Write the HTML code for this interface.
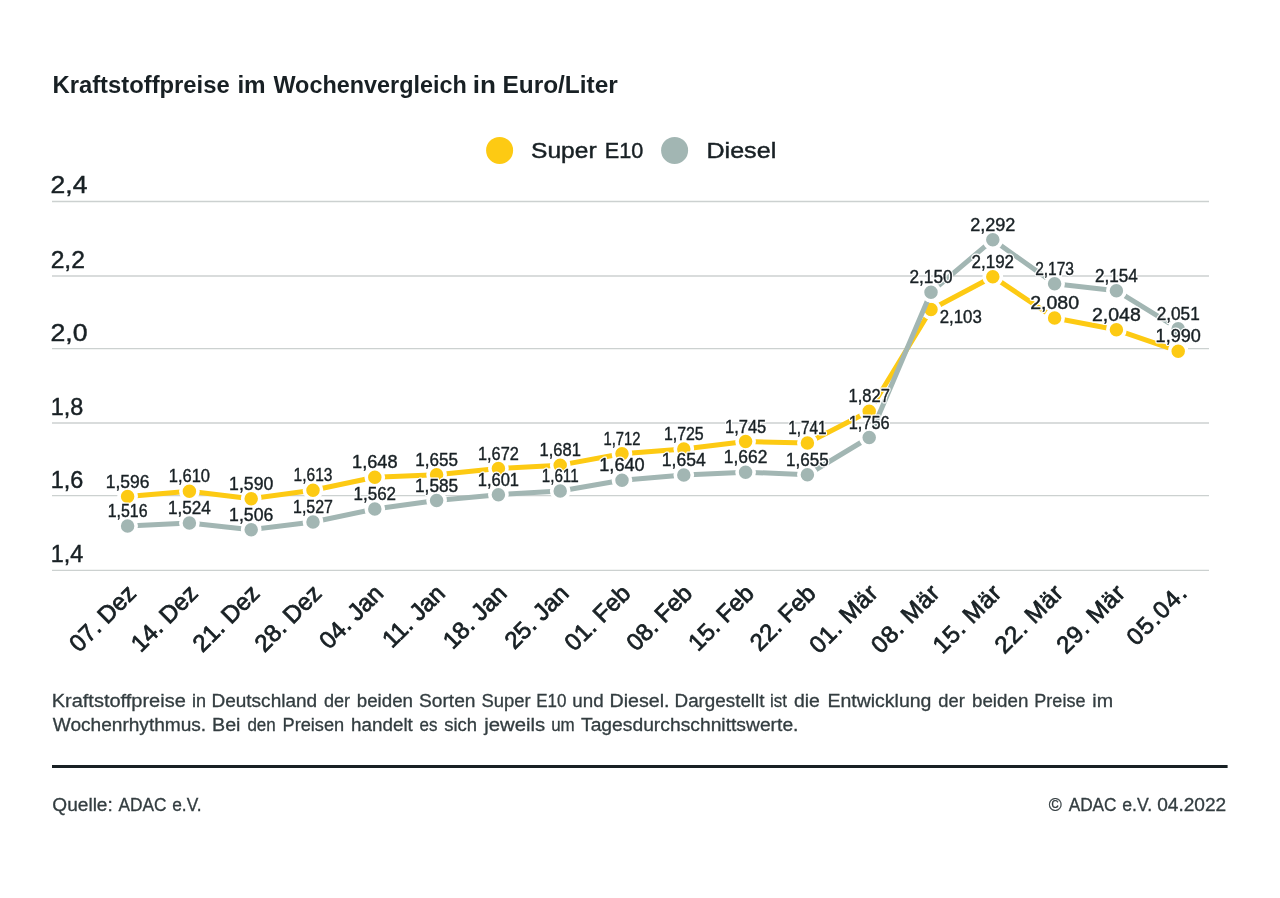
<!DOCTYPE html>
<html lang="de"><head><meta charset="utf-8"><title>Kraftstoffpreise im Wochenvergleich</title>
<style>html,body{margin:0;padding:0;background:#fff}body{width:1280px;height:898px;overflow:hidden;font-family:"Liberation Sans", sans-serif}svg{display:block;will-change:transform}text{font-family:"Liberation Sans", sans-serif}</style></head><body>
<svg width="1280" height="898" viewBox="0 0 1280 898">
<rect width="1280" height="898" fill="#fff"/>
<g font-size="24.2" font-weight="700" fill="#182024">
<text x="52.44" y="93.3" textLength="177.29" lengthAdjust="spacingAndGlyphs">Kraftstoffpreise</text>
<text x="237.4" y="93.3" textLength="28.29" lengthAdjust="spacingAndGlyphs">im</text>
<text x="273.42" y="93.3" textLength="193.46" lengthAdjust="spacingAndGlyphs">Wochenvergleich</text>
<text x="472.8" y="93.3" textLength="23.18" lengthAdjust="spacingAndGlyphs">in</text>
<text x="502.41" y="93.3" textLength="115.42" lengthAdjust="spacingAndGlyphs">Euro/Liter</text>
</g>
<circle cx="499.6" cy="150.4" r="13.5" fill="#fdca13"/>
<g font-size="22.6" font-weight="400" fill="#182024" stroke="#182024" stroke-width="0.45">
<text x="531.02" y="158.4" textLength="65.6" lengthAdjust="spacingAndGlyphs">Super</text>
<text x="604.74" y="158.4" textLength="38.45" lengthAdjust="spacingAndGlyphs">E10</text>
<text x="706.45" y="158.4" textLength="69.79" lengthAdjust="spacingAndGlyphs">Diesel</text>
</g>
<circle cx="674.6" cy="150.4" r="13.5" fill="#a2b6b3"/>
<line x1="52" x2="1209" y1="570.3" y2="570.3" stroke="#ccd1d0" stroke-width="1.3"/>
<text x="50.7" y="562.2" font-size="24" fill="#182024" stroke="#182024" stroke-width="0.45" textLength="32.52" lengthAdjust="spacingAndGlyphs">1,4</text>
<line x1="52" x2="1209" y1="495.6" y2="495.6" stroke="#ccd1d0" stroke-width="1.3"/>
<text x="50.7" y="487.5" font-size="24" fill="#182024" stroke="#182024" stroke-width="0.45" textLength="32.56" lengthAdjust="spacingAndGlyphs">1,6</text>
<line x1="52" x2="1209" y1="423" y2="423" stroke="#ccd1d0" stroke-width="1.3"/>
<text x="50.7" y="414.9" font-size="24" fill="#182024" stroke="#182024" stroke-width="0.45" textLength="32.57" lengthAdjust="spacingAndGlyphs">1,8</text>
<line x1="52" x2="1209" y1="348.7" y2="348.7" stroke="#ccd1d0" stroke-width="1.3"/>
<text x="50.56" y="340.6" font-size="24" fill="#182024" stroke="#182024" stroke-width="0.45" textLength="37.05" lengthAdjust="spacingAndGlyphs">2,0</text>
<line x1="52" x2="1209" y1="276" y2="276" stroke="#ccd1d0" stroke-width="1.3"/>
<text x="50.67" y="267.9" font-size="24" fill="#182024" stroke="#182024" stroke-width="0.45" textLength="34.26" lengthAdjust="spacingAndGlyphs">2,2</text>
<line x1="52" x2="1209" y1="201.5" y2="201.5" stroke="#ccd1d0" stroke-width="1.3"/>
<text x="50.57" y="193.4" font-size="24" fill="#182024" stroke="#182024" stroke-width="0.45" textLength="36.82" lengthAdjust="spacingAndGlyphs">2,4</text>
<text transform="translate(137.5 594.7) rotate(-45)" text-anchor="end" font-size="24" fill="#182024" stroke="#182024" stroke-width="0.75">07. Dez</text>
<text transform="translate(199.3 594.7) rotate(-45)" text-anchor="end" font-size="24" fill="#182024" stroke="#182024" stroke-width="0.75">14. Dez</text>
<text transform="translate(261.1 594.7) rotate(-45)" text-anchor="end" font-size="24" fill="#182024" stroke="#182024" stroke-width="0.75">21. Dez</text>
<text transform="translate(322.9 594.7) rotate(-45)" text-anchor="end" font-size="24" fill="#182024" stroke="#182024" stroke-width="0.75">28. Dez</text>
<text transform="translate(384.7 594.7) rotate(-45)" text-anchor="end" font-size="24" fill="#182024" stroke="#182024" stroke-width="0.75">04. Jan</text>
<text transform="translate(446.5 594.7) rotate(-45)" text-anchor="end" font-size="24" fill="#182024" stroke="#182024" stroke-width="0.75">11. Jan</text>
<text transform="translate(508.3 594.7) rotate(-45)" text-anchor="end" font-size="24" fill="#182024" stroke="#182024" stroke-width="0.75">18. Jan</text>
<text transform="translate(570.1 594.7) rotate(-45)" text-anchor="end" font-size="24" fill="#182024" stroke="#182024" stroke-width="0.75">25. Jan</text>
<text transform="translate(631.9 594.7) rotate(-45)" text-anchor="end" font-size="24" fill="#182024" stroke="#182024" stroke-width="0.75">01. Feb</text>
<text transform="translate(693.7 594.7) rotate(-45)" text-anchor="end" font-size="24" fill="#182024" stroke="#182024" stroke-width="0.75">08. Feb</text>
<text transform="translate(755.5 594.7) rotate(-45)" text-anchor="end" font-size="24" fill="#182024" stroke="#182024" stroke-width="0.75">15. Feb</text>
<text transform="translate(817.3 594.7) rotate(-45)" text-anchor="end" font-size="24" fill="#182024" stroke="#182024" stroke-width="0.75">22. Feb</text>
<text transform="translate(879.1 594.7) rotate(-45)" text-anchor="end" font-size="24" fill="#182024" stroke="#182024" stroke-width="0.75" textLength="85" lengthAdjust="spacing">01. Mär</text>
<text transform="translate(940.9 594.7) rotate(-45)" text-anchor="end" font-size="24" fill="#182024" stroke="#182024" stroke-width="0.75" textLength="85" lengthAdjust="spacing">08. Mär</text>
<text transform="translate(1002.7 594.7) rotate(-45)" text-anchor="end" font-size="24" fill="#182024" stroke="#182024" stroke-width="0.75" textLength="85" lengthAdjust="spacing">15. Mär</text>
<text transform="translate(1064.5 594.7) rotate(-45)" text-anchor="end" font-size="24" fill="#182024" stroke="#182024" stroke-width="0.75" textLength="85" lengthAdjust="spacing">22. Mär</text>
<text transform="translate(1126.3 594.7) rotate(-45)" text-anchor="end" font-size="24" fill="#182024" stroke="#182024" stroke-width="0.75" textLength="85" lengthAdjust="spacing">29. Mär</text>
<text transform="translate(1188.1 594.7) rotate(-45)" text-anchor="end" font-size="24" fill="#182024" stroke="#182024" stroke-width="0.75" textLength="73.5" lengthAdjust="spacing">05.04.</text>
<polyline points="127.6,496.5 189.4,491.33 251.2,498.71 313,490.23 374.8,477.32 436.6,474.74 498.4,468.47 560.2,465.15 622,453.71 683.8,448.92 745.6,441.54 807.4,443.02 869.2,411.3 931,309.51 992.8,276.69 1054.6,318 1116.4,329.8 1178.2,351.19" fill="none" stroke="#fdca13" stroke-width="5" stroke-linejoin="round" stroke-linecap="round"/>
<circle cx="127.6" cy="496.5" r="8.55" fill="#fdca13" stroke="#fff" stroke-width="3.6"/>
<circle cx="189.4" cy="491.33" r="8.55" fill="#fdca13" stroke="#fff" stroke-width="3.6"/>
<circle cx="251.2" cy="498.71" r="8.55" fill="#fdca13" stroke="#fff" stroke-width="3.6"/>
<circle cx="313" cy="490.23" r="8.55" fill="#fdca13" stroke="#fff" stroke-width="3.6"/>
<circle cx="374.8" cy="477.32" r="8.55" fill="#fdca13" stroke="#fff" stroke-width="3.6"/>
<circle cx="436.6" cy="474.74" r="8.55" fill="#fdca13" stroke="#fff" stroke-width="3.6"/>
<circle cx="498.4" cy="468.47" r="8.55" fill="#fdca13" stroke="#fff" stroke-width="3.6"/>
<circle cx="560.2" cy="465.15" r="8.55" fill="#fdca13" stroke="#fff" stroke-width="3.6"/>
<circle cx="622" cy="453.71" r="8.55" fill="#fdca13" stroke="#fff" stroke-width="3.6"/>
<circle cx="683.8" cy="448.92" r="8.55" fill="#fdca13" stroke="#fff" stroke-width="3.6"/>
<circle cx="745.6" cy="441.54" r="8.55" fill="#fdca13" stroke="#fff" stroke-width="3.6"/>
<circle cx="807.4" cy="443.02" r="8.55" fill="#fdca13" stroke="#fff" stroke-width="3.6"/>
<circle cx="869.2" cy="411.3" r="8.55" fill="#fdca13" stroke="#fff" stroke-width="3.6"/>
<circle cx="931" cy="309.51" r="8.55" fill="#fdca13" stroke="#fff" stroke-width="3.6"/>
<circle cx="992.8" cy="276.69" r="8.55" fill="#fdca13" stroke="#fff" stroke-width="3.6"/>
<circle cx="1054.6" cy="318" r="8.55" fill="#fdca13" stroke="#fff" stroke-width="3.6"/>
<circle cx="1116.4" cy="329.8" r="8.55" fill="#fdca13" stroke="#fff" stroke-width="3.6"/>
<circle cx="1178.2" cy="351.19" r="8.55" fill="#fdca13" stroke="#fff" stroke-width="3.6"/>
<polyline points="127.6,526 189.4,523.05 251.2,529.69 313,521.94 374.8,509.03 436.6,500.55 498.4,494.65 560.2,490.96 622,480.27 683.8,475.1 745.6,472.15 807.4,474.74 869.2,437.49 931,292.18 992.8,239.81 1054.6,283.7 1116.4,290.7 1178.2,328.69" fill="none" stroke="#a2b6b3" stroke-width="5" stroke-linejoin="round" stroke-linecap="round"/>
<circle cx="127.6" cy="526" r="8.55" fill="#a2b6b3" stroke="#fff" stroke-width="3.6"/>
<circle cx="189.4" cy="523.05" r="8.55" fill="#a2b6b3" stroke="#fff" stroke-width="3.6"/>
<circle cx="251.2" cy="529.69" r="8.55" fill="#a2b6b3" stroke="#fff" stroke-width="3.6"/>
<circle cx="313" cy="521.94" r="8.55" fill="#a2b6b3" stroke="#fff" stroke-width="3.6"/>
<circle cx="374.8" cy="509.03" r="8.55" fill="#a2b6b3" stroke="#fff" stroke-width="3.6"/>
<circle cx="436.6" cy="500.55" r="8.55" fill="#a2b6b3" stroke="#fff" stroke-width="3.6"/>
<circle cx="498.4" cy="494.65" r="8.55" fill="#a2b6b3" stroke="#fff" stroke-width="3.6"/>
<circle cx="560.2" cy="490.96" r="8.55" fill="#a2b6b3" stroke="#fff" stroke-width="3.6"/>
<circle cx="622" cy="480.27" r="8.55" fill="#a2b6b3" stroke="#fff" stroke-width="3.6"/>
<circle cx="683.8" cy="475.1" r="8.55" fill="#a2b6b3" stroke="#fff" stroke-width="3.6"/>
<circle cx="745.6" cy="472.15" r="8.55" fill="#a2b6b3" stroke="#fff" stroke-width="3.6"/>
<circle cx="807.4" cy="474.74" r="8.55" fill="#a2b6b3" stroke="#fff" stroke-width="3.6"/>
<circle cx="869.2" cy="437.49" r="8.55" fill="#a2b6b3" stroke="#fff" stroke-width="3.6"/>
<circle cx="931" cy="292.18" r="8.55" fill="#a2b6b3" stroke="#fff" stroke-width="3.6"/>
<circle cx="992.8" cy="239.81" r="8.55" fill="#a2b6b3" stroke="#fff" stroke-width="3.6"/>
<circle cx="1054.6" cy="283.7" r="8.55" fill="#a2b6b3" stroke="#fff" stroke-width="3.6"/>
<circle cx="1116.4" cy="290.7" r="8.55" fill="#a2b6b3" stroke="#fff" stroke-width="3.6"/>
<circle cx="1178.2" cy="328.69" r="8.55" fill="#a2b6b3" stroke="#fff" stroke-width="3.6"/>
<g font-size="17.5" fill="#fff" stroke="#fff" stroke-width="2.8" stroke-linejoin="round">
<text x="105.77" y="487.6" textLength="43.65" lengthAdjust="spacingAndGlyphs">1,596</text>
<text x="168.75" y="482.43" textLength="41.3" lengthAdjust="spacingAndGlyphs">1,610</text>
<text x="229.12" y="489.81" textLength="44.15" lengthAdjust="spacingAndGlyphs">1,590</text>
<text x="293.6" y="481.33" textLength="38.8" lengthAdjust="spacingAndGlyphs">1,613</text>
<text x="352.07" y="468.42" textLength="45.45" lengthAdjust="spacingAndGlyphs">1,648</text>
<text x="415.28" y="465.84" textLength="42.65" lengthAdjust="spacingAndGlyphs">1,655</text>
<text x="477.97" y="459.57" textLength="40.85" lengthAdjust="spacingAndGlyphs">1,672</text>
<text x="539.55" y="456.25" textLength="41.3" lengthAdjust="spacingAndGlyphs">1,681</text>
<text x="603.5" y="444.81" textLength="37" lengthAdjust="spacingAndGlyphs">1,712</text>
<text x="663.88" y="440.02" textLength="39.85" lengthAdjust="spacingAndGlyphs">1,725</text>
<text x="724.98" y="432.64" textLength="41.25" lengthAdjust="spacingAndGlyphs">1,745</text>
<text x="788.2" y="434.12" textLength="38.4" lengthAdjust="spacingAndGlyphs">1,741</text>
<text x="848.52" y="402.4" textLength="41.35" lengthAdjust="spacingAndGlyphs">1,827</text>
<text x="939.77" y="322.51" textLength="42.05" lengthAdjust="spacingAndGlyphs">2,103</text>
<text x="971.57" y="267.79" textLength="42.45" lengthAdjust="spacingAndGlyphs">2,192</text>
<text x="1030.15" y="309.1" textLength="48.9" lengthAdjust="spacingAndGlyphs">2,080</text>
<text x="1092.05" y="320.9" textLength="48.7" lengthAdjust="spacingAndGlyphs">2,048</text>
<text x="1155.62" y="342.29" textLength="45.15" lengthAdjust="spacingAndGlyphs">1,990</text>
<text x="107.7" y="517.1" textLength="39.8" lengthAdjust="spacingAndGlyphs">1,516</text>
<text x="167.97" y="514.15" textLength="42.85" lengthAdjust="spacingAndGlyphs">1,524</text>
<text x="229.12" y="520.79" textLength="44.15" lengthAdjust="spacingAndGlyphs">1,506</text>
<text x="293.07" y="513.04" textLength="39.85" lengthAdjust="spacingAndGlyphs">1,527</text>
<text x="353.52" y="500.13" textLength="42.55" lengthAdjust="spacingAndGlyphs">1,562</text>
<text x="415.03" y="491.65" textLength="43.15" lengthAdjust="spacingAndGlyphs">1,585</text>
<text x="477.75" y="485.75" textLength="41.3" lengthAdjust="spacingAndGlyphs">1,601</text>
<text x="541.72" y="482.06" textLength="36.95" lengthAdjust="spacingAndGlyphs">1,611</text>
<text x="599.27" y="471.37" textLength="45.45" lengthAdjust="spacingAndGlyphs">1,640</text>
<text x="661.82" y="466.2" textLength="43.95" lengthAdjust="spacingAndGlyphs">1,654</text>
<text x="723.83" y="463.25" textLength="43.55" lengthAdjust="spacingAndGlyphs">1,662</text>
<text x="786.07" y="465.84" textLength="42.65" lengthAdjust="spacingAndGlyphs">1,655</text>
<text x="848.72" y="428.59" textLength="40.95" lengthAdjust="spacingAndGlyphs">1,756</text>
<text x="909.48" y="283.28" textLength="43.05" lengthAdjust="spacingAndGlyphs">2,150</text>
<text x="970.2" y="230.91" textLength="45.2" lengthAdjust="spacingAndGlyphs">2,292</text>
<text x="1035.17" y="274.8" textLength="38.85" lengthAdjust="spacingAndGlyphs">2,173</text>
<text x="1094.97" y="281.8" textLength="42.85" lengthAdjust="spacingAndGlyphs">2,154</text>
<text x="1156.67" y="319.79" textLength="43.05" lengthAdjust="spacingAndGlyphs">2,051</text>
</g>
<g font-size="17.5" fill="#182024" stroke="#182024" stroke-width="0.4">
<text x="105.77" y="487.6" textLength="43.65" lengthAdjust="spacingAndGlyphs">1,596</text>
<text x="168.75" y="482.43" textLength="41.3" lengthAdjust="spacingAndGlyphs">1,610</text>
<text x="229.12" y="489.81" textLength="44.15" lengthAdjust="spacingAndGlyphs">1,590</text>
<text x="293.6" y="481.33" textLength="38.8" lengthAdjust="spacingAndGlyphs">1,613</text>
<text x="352.07" y="468.42" textLength="45.45" lengthAdjust="spacingAndGlyphs">1,648</text>
<text x="415.28" y="465.84" textLength="42.65" lengthAdjust="spacingAndGlyphs">1,655</text>
<text x="477.97" y="459.57" textLength="40.85" lengthAdjust="spacingAndGlyphs">1,672</text>
<text x="539.55" y="456.25" textLength="41.3" lengthAdjust="spacingAndGlyphs">1,681</text>
<text x="603.5" y="444.81" textLength="37" lengthAdjust="spacingAndGlyphs">1,712</text>
<text x="663.88" y="440.02" textLength="39.85" lengthAdjust="spacingAndGlyphs">1,725</text>
<text x="724.98" y="432.64" textLength="41.25" lengthAdjust="spacingAndGlyphs">1,745</text>
<text x="788.2" y="434.12" textLength="38.4" lengthAdjust="spacingAndGlyphs">1,741</text>
<text x="848.52" y="402.4" textLength="41.35" lengthAdjust="spacingAndGlyphs">1,827</text>
<text x="939.77" y="322.51" textLength="42.05" lengthAdjust="spacingAndGlyphs">2,103</text>
<text x="971.57" y="267.79" textLength="42.45" lengthAdjust="spacingAndGlyphs">2,192</text>
<text x="1030.15" y="309.1" textLength="48.9" lengthAdjust="spacingAndGlyphs">2,080</text>
<text x="1092.05" y="320.9" textLength="48.7" lengthAdjust="spacingAndGlyphs">2,048</text>
<text x="1155.62" y="342.29" textLength="45.15" lengthAdjust="spacingAndGlyphs">1,990</text>
<text x="107.7" y="517.1" textLength="39.8" lengthAdjust="spacingAndGlyphs">1,516</text>
<text x="167.97" y="514.15" textLength="42.85" lengthAdjust="spacingAndGlyphs">1,524</text>
<text x="229.12" y="520.79" textLength="44.15" lengthAdjust="spacingAndGlyphs">1,506</text>
<text x="293.07" y="513.04" textLength="39.85" lengthAdjust="spacingAndGlyphs">1,527</text>
<text x="353.52" y="500.13" textLength="42.55" lengthAdjust="spacingAndGlyphs">1,562</text>
<text x="415.03" y="491.65" textLength="43.15" lengthAdjust="spacingAndGlyphs">1,585</text>
<text x="477.75" y="485.75" textLength="41.3" lengthAdjust="spacingAndGlyphs">1,601</text>
<text x="541.72" y="482.06" textLength="36.95" lengthAdjust="spacingAndGlyphs">1,611</text>
<text x="599.27" y="471.37" textLength="45.45" lengthAdjust="spacingAndGlyphs">1,640</text>
<text x="661.82" y="466.2" textLength="43.95" lengthAdjust="spacingAndGlyphs">1,654</text>
<text x="723.83" y="463.25" textLength="43.55" lengthAdjust="spacingAndGlyphs">1,662</text>
<text x="786.07" y="465.84" textLength="42.65" lengthAdjust="spacingAndGlyphs">1,655</text>
<text x="848.72" y="428.59" textLength="40.95" lengthAdjust="spacingAndGlyphs">1,756</text>
<text x="909.48" y="283.28" textLength="43.05" lengthAdjust="spacingAndGlyphs">2,150</text>
<text x="970.2" y="230.91" textLength="45.2" lengthAdjust="spacingAndGlyphs">2,292</text>
<text x="1035.17" y="274.8" textLength="38.85" lengthAdjust="spacingAndGlyphs">2,173</text>
<text x="1094.97" y="281.8" textLength="42.85" lengthAdjust="spacingAndGlyphs">2,154</text>
<text x="1156.67" y="319.79" textLength="43.05" lengthAdjust="spacingAndGlyphs">2,051</text>
</g>
<g font-size="18.0" font-weight="400" fill="#333d40" stroke="#333d40" stroke-width="0.3">
<text x="51.72" y="707.1" textLength="134.03" lengthAdjust="spacingAndGlyphs">Kraftstoffpreise</text>
<text x="192.03" y="707.1" textLength="14.04" lengthAdjust="spacingAndGlyphs">in</text>
<text x="211.48" y="707.1" textLength="105.68" lengthAdjust="spacingAndGlyphs">Deutschland</text>
<text x="323.98" y="707.1" textLength="26.14" lengthAdjust="spacingAndGlyphs">der</text>
<text x="356.71" y="707.1" textLength="56.32" lengthAdjust="spacingAndGlyphs">beiden</text>
<text x="418.94" y="707.1" textLength="56.58" lengthAdjust="spacingAndGlyphs">Sorten</text>
<text x="481.49" y="707.1" textLength="49.26" lengthAdjust="spacingAndGlyphs">Super</text>
<text x="536.21" y="707.1" textLength="30.19" lengthAdjust="spacingAndGlyphs">E10</text>
<text x="572.32" y="707.1" textLength="31.3" lengthAdjust="spacingAndGlyphs">und</text>
<text x="609.54" y="707.1" textLength="59.98" lengthAdjust="spacingAndGlyphs">Diesel.</text>
<text x="674.6" y="707.1" textLength="89.81" lengthAdjust="spacingAndGlyphs">Dargestellt</text>
<text x="770.01" y="707.1" textLength="16.97" lengthAdjust="spacingAndGlyphs">ist</text>
<text x="793.95" y="707.1" textLength="25.93" lengthAdjust="spacingAndGlyphs">die</text>
<text x="827.4" y="707.1" textLength="104.05" lengthAdjust="spacingAndGlyphs">Entwicklung</text>
<text x="938.32" y="707.1" textLength="26.5" lengthAdjust="spacingAndGlyphs">der</text>
<text x="972.01" y="707.1" textLength="56.32" lengthAdjust="spacingAndGlyphs">beiden</text>
<text x="1034.35" y="707.1" textLength="51.09" lengthAdjust="spacingAndGlyphs">Preise</text>
<text x="1092.28" y="707.1" textLength="20.72" lengthAdjust="spacingAndGlyphs">im</text>
</g>
<g font-size="18.0" font-weight="400" fill="#333d40" stroke="#333d40" stroke-width="0.3">
<text x="52.74" y="731.4" textLength="153.43" lengthAdjust="spacingAndGlyphs">Wochenrhythmus.</text>
<text x="212.03" y="731.4" textLength="28.48" lengthAdjust="spacingAndGlyphs">Bei</text>
<text x="247.41" y="731.4" textLength="28.36" lengthAdjust="spacingAndGlyphs">den</text>
<text x="282.49" y="731.4" textLength="61.74" lengthAdjust="spacingAndGlyphs">Preisen</text>
<text x="351.1" y="731.4" textLength="61.73" lengthAdjust="spacingAndGlyphs">handelt</text>
<text x="419.48" y="731.4" textLength="17.91" lengthAdjust="spacingAndGlyphs">es</text>
<text x="444.26" y="731.4" textLength="32.81" lengthAdjust="spacingAndGlyphs">sich</text>
<text x="484.21" y="731.4" textLength="60.96" lengthAdjust="spacingAndGlyphs">jeweils</text>
<text x="551.17" y="731.4" textLength="23.57" lengthAdjust="spacingAndGlyphs">um</text>
<text x="581" y="731.4" textLength="217.48" lengthAdjust="spacingAndGlyphs">Tagesdurchschnittswerte.</text>
</g>
<rect x="52" y="765" width="1175.6" height="3" fill="#182024"/>
<g font-size="18.0" font-weight="400" fill="#333d40" stroke="#333d40" stroke-width="0.3">
<text x="52.33" y="811.3" textLength="60.47" lengthAdjust="spacingAndGlyphs">Quelle:</text>
<text x="118.43" y="811.3" textLength="48.01" lengthAdjust="spacingAndGlyphs">ADAC</text>
<text x="172.19" y="811.3" textLength="29.28" lengthAdjust="spacingAndGlyphs">e.V.</text>
</g>
<g font-size="18.0" font-weight="400" fill="#333d40" stroke="#333d40" stroke-width="0.3">
<text x="1048.72" y="811.3" textLength="12.99" lengthAdjust="spacingAndGlyphs">©</text>
<text x="1068.68" y="811.3" textLength="47.85" lengthAdjust="spacingAndGlyphs">ADAC</text>
<text x="1122.29" y="811.3" textLength="29.81" lengthAdjust="spacingAndGlyphs">e.V.</text>
<text x="1157.16" y="811.3" textLength="69.08" lengthAdjust="spacingAndGlyphs">04.2022</text>
</g>
</svg></body></html>
